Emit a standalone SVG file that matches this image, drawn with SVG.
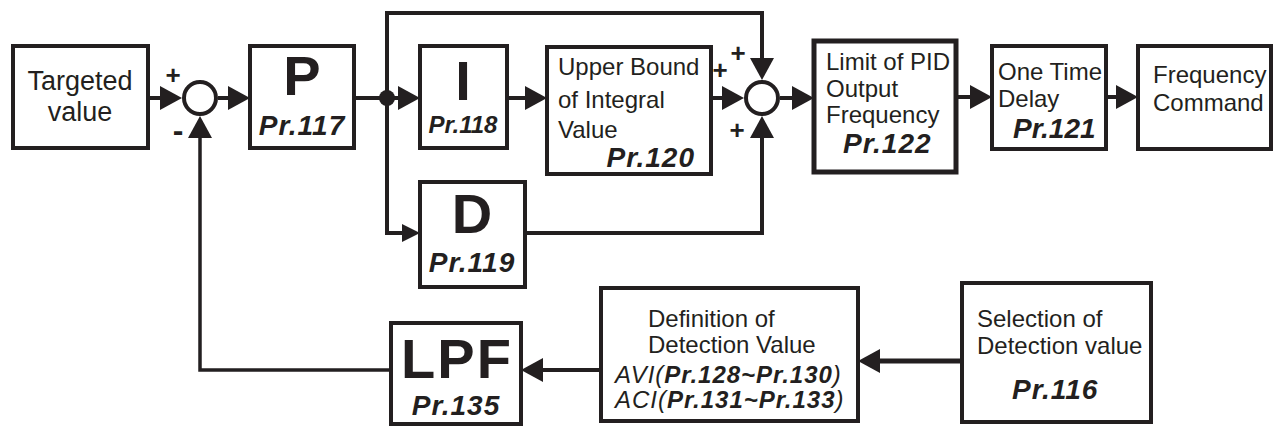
<svg xmlns="http://www.w3.org/2000/svg" width="1273" height="427" viewBox="0 0 1273 427">
<style>
.box{fill:#fff;stroke:#231f20;stroke-width:4}
.thick{stroke-width:5}
.ln{fill:none;stroke:#231f20;stroke-width:4}
.t{font-family:"Liberation Sans",Arial,sans-serif;fill:#231f20;font-size:24px}
.big{font-family:"Liberation Sans",Arial,sans-serif;fill:#231f20;font-size:56px;font-weight:bold;text-anchor:middle}
.pr{font-family:"Liberation Sans",Arial,sans-serif;fill:#231f20;font-size:28px;font-weight:bold;font-style:italic;letter-spacing:1px}
.sg{font-family:"Liberation Sans",Arial,sans-serif;fill:#231f20;font-size:26px;font-weight:bold;text-anchor:middle}
.c{text-anchor:middle}
</style>
<defs>
<marker id="ah" markerUnits="userSpaceOnUse" viewBox="0 0 22 24" refX="0" refY="12" markerWidth="22" markerHeight="24" orient="auto"><path d="M0,0 L22,12 L0,24 Z" fill="#231f20"/></marker>
<marker id="ahs" markerUnits="userSpaceOnUse" viewBox="0 0 18 18" refX="0" refY="9" markerWidth="18" markerHeight="18" orient="auto"><path d="M0,0 L18,9 L0,18 Z" fill="#231f20"/></marker>
</defs>
<g id="connectors">
<path class="ln" d="M148,98 H160" marker-end="url(#ah)"/>
<path class="ln" d="M218,98 H228" marker-end="url(#ah)"/>
<path class="ln" d="M354,98 H398" marker-end="url(#ah)"/>
<circle cx="387" cy="98" r="8" fill="#231f20"/>
<path class="ln" d="M387,98 V13 H762 V58" marker-end="url(#ah)"/>
<path class="ln" d="M387,98 V233 H402" marker-end="url(#ahs)"/>
<path class="ln" d="M507,98 H525" marker-end="url(#ah)"/>
<path class="ln" d="M711,98 H722" marker-end="url(#ah)"/>
<path class="ln" d="M525,233 H762 V138" marker-end="url(#ah)"/>
<path class="ln" d="M780,98 H792" marker-end="url(#ah)"/>
<path class="ln" d="M956,97 H970" marker-end="url(#ah)"/>
<path class="ln" d="M1106,97 H1116" marker-end="url(#ah)"/>
<path class="ln" style="stroke-width:5" d="M962,361 H880" marker-end="url(#ah)"/>
<path class="ln" d="M601,370 H543" marker-end="url(#ah)"/>
<path class="ln" style="stroke-width:3.5" d="M391,370 H200 V138" marker-end="url(#ah)"/>
</g>
<g id="sum1">
<circle cx="200" cy="98" r="16" fill="#fff" stroke="#231f20" stroke-width="4"/>
<text class="sg" x="173" y="84">+</text>
<text class="sg" style="font-size:32px" x="178" y="141">-</text>
</g>
<g id="sum2">
<circle cx="762" cy="98" r="16" fill="#fff" stroke="#231f20" stroke-width="4"/>
<text class="sg" x="720" y="79">+</text>
<text class="sg" x="738" y="62">+</text>
<text class="sg" x="737" y="139">+</text>
</g>
<g id="targeted">
<rect class="box" x="13" y="46" width="135" height="102"/>
<text class="t c" style="font-size:27px" x="80" y="90">Targeted</text>
<text class="t c" style="font-size:27px" x="80" y="121">value</text>
</g>
<g id="p">
<rect class="box" x="250" y="46" width="104" height="102"/>
<text class="big" x="302" y="95">P</text>
<text class="pr" x="302" y="135" text-anchor="middle">Pr.117</text>
</g>
<g id="i">
<rect class="box" x="420" y="46" width="87" height="102"/>
<text class="big" x="463" y="100">I</text>
<text class="pr" style="font-size:24px;letter-spacing:0" x="463" y="133" text-anchor="middle">Pr.118</text>
</g>
<g id="upper">
<rect class="box" x="547" y="47" width="164" height="127"/>
<text class="t" x="558" y="75">Upper Bound</text>
<text class="t" x="558" y="108">of Integral</text>
<text class="t" x="558" y="138">Value</text>
<text class="pr" x="695" y="167" text-anchor="end">Pr.120</text>
</g>
<g id="d">
<rect class="box" x="420" y="182" width="105" height="105"/>
<text class="big" x="472" y="233">D</text>
<text class="pr" x="472" y="272" text-anchor="middle">Pr.119</text>
</g>
<g id="limit">
<rect class="box thick" x="814" y="41" width="142" height="131"/>
<text class="t" x="826" y="70">Limit of PID</text>
<text class="t" x="826" y="97">Output</text>
<text class="t" x="826" y="123">Frequency</text>
<text class="pr" x="843" y="153">Pr.122</text>
</g>
<g id="onetime">
<rect class="box" x="992" y="46" width="114" height="103"/>
<text class="t" x="998" y="80">One Time</text>
<text class="t" x="998" y="107">Delay</text>
<text class="pr" style="letter-spacing:0" x="1013" y="138">Pr.121</text>
</g>
<g id="freqcmd">
<rect class="box" x="1138" y="46" width="133" height="103"/>
<text class="t" x="1153" y="83">Frequency</text>
<text class="t" x="1153" y="111">Command</text>
</g>
<g id="selection">
<rect class="box" x="962" y="283" width="189" height="139"/>
<text class="t" x="977" y="327">Selection of</text>
<text class="t" x="977" y="354">Detection value</text>
<text class="pr" x="1012" y="399">Pr.116</text>
</g>
<g id="definition">
<rect class="box" x="601" y="288" width="257" height="133"/>
<text class="t" x="648" y="327">Definition of</text>
<text class="t" x="648" y="353">Detection Value</text>
<text class="t" style="font-style:italic;letter-spacing:1px" x="615" y="383">AVI(<tspan font-weight="bold">Pr.128~Pr.130</tspan>)</text>
<text class="t" style="font-style:italic;letter-spacing:1px" x="615" y="408">ACI(<tspan font-weight="bold">Pr.131~Pr.133</tspan>)</text>
</g>
<g id="lpf">
<rect class="box" x="391" y="323" width="130" height="101"/>
<text class="big" style="letter-spacing:2px" x="457" y="378">LPF</text>
<text class="pr" x="456" y="415" text-anchor="middle">Pr.135</text>
</g>
</svg>
